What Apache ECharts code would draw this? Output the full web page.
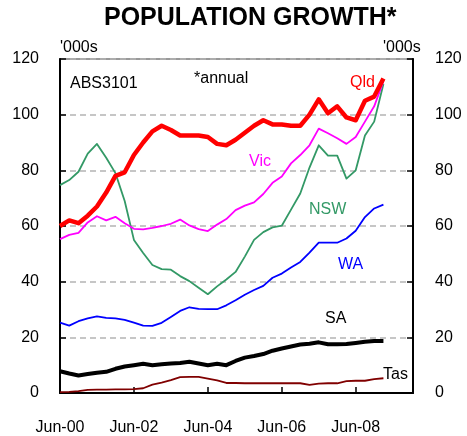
<!DOCTYPE html>
<html>
<head>
<meta charset="utf-8">
<script src="https://cdn.jsdelivr.net/npm/echarts@6/dist/echarts.min.js"></script>
<style>html,body{margin:0;padding:0;background:#fff}#c{width:467px;height:436px}</style>
</head>
<body>
<div id="c"></div>
<script>
const quarters = ['Jun-00','Sep-00','Dec-00','Mar-01','Jun-01','Sep-01','Dec-01','Mar-02','Jun-02','Sep-02','Dec-02','Mar-03','Jun-03','Sep-03','Dec-03','Mar-04','Jun-04','Sep-04','Dec-04','Mar-05','Jun-05','Sep-05','Dec-05','Mar-06','Jun-06','Sep-06','Dec-06','Mar-07','Jun-07','Sep-07','Dec-07','Mar-08','Jun-08','Sep-08','Dec-08','Mar-09'];
const tickLabels = ['Jun-00','Jun-02','Jun-04','Jun-06','Jun-08'];
const yTicks = [0,20,40,60,80,100,120];
const qld = [60,62,61,63.7,67,72,78,79.3,85.5,90,94,96,94.5,92.5,92.5,92.5,92,89.5,89,91,93.5,96,98,96.5,96.5,96,96,100,105.5,100.5,103,99,98,105,106.5,113];
const vic = [55.3,56.8,57.5,61.3,63.5,62,63.3,61,59,58.8,59.3,60,60.8,62.3,60.2,58.9,58.2,60.5,62.5,65.7,67.3,68.5,71.5,75.5,77.8,82.5,85.5,89,95,93.3,91.5,89.5,92,97.5,103,112];
const nsw = [74.7,76.5,79.5,86,89.5,84.5,79,69,55,50.3,46,44.5,44.3,42,40.2,37.8,35.5,38.3,40.8,43.5,49,55,57.8,59.5,60.1,65.9,71.7,81,89,85.3,85.3,77,80,92.5,97.5,111];
const wa = [25.3,24.2,25.8,26.8,27.5,27,26.8,26.3,25.3,24.2,24.1,25.2,27.3,29.5,30.8,30.2,30.1,30.1,31.5,33.3,35.3,37,38.5,41.4,42.9,45.1,47.1,50.4,54,54,54,55.5,58.3,63.2,66.3,67.7];
const sa = [7.8,7,6.3,6.8,7.3,7.6,8.7,9.5,10,10.5,10,10.3,10.6,10.8,11.2,10.6,10,10.5,10,11.5,12.7,13.3,14,15.2,16,16.7,17.4,17.7,18.2,17.5,17.5,17.6,18,18.4,18.7,18.7];
const tas = [0.3,0.4,0.7,1.1,1.2,1.2,1.3,1.3,1.4,1.7,3,3.7,4.6,5.7,5.8,5.8,5.2,4.5,3.6,3.6,3.5,3.5,3.5,3.5,3.5,3.5,3.5,2.9,3.4,3.5,3.5,4.3,4.4,4.4,5,5.3];

const FONT = 'Liberation Sans, Arial, sans-serif';
const pairs = arr => arr.map((v, i) => [i, v]);
const mk = (name, arr, color, width) => ({
  name, type: 'line', data: pairs(arr), showSymbol: false, symbol: 'none',
  lineStyle: { color, width, join: 'round' }, animation: false, z: 3
});
const txt = (text, x, y, color) => ({
  type: 'text', x, y, z: 10,
  style: { text, x: 0, y: 0, fill: color || '#000', font: '16px ' + FONT, align: 'left', verticalAlign: 'middle' }
});

const chart = echarts.init(document.getElementById('c'), null, { renderer: 'canvas' });
chart.setOption({
  animation: false,
  backgroundColor: '#fff',
  grid: { left: 60, right: 54, top: 59, bottom: 43, show: true, borderColor: '#999', borderWidth: 2, backgroundColor: 'transparent' },
  xAxis: {
    type: 'value', min: 0, max: 38.2, interval: 8,
    axisLine: { show: true, lineStyle: { color: '#000', width: 2 } },
    axisTick: { show: true, inside: true, length: 6, lineStyle: { color: '#000', width: 1.5 } },
    splitLine: { show: false },
    axisLabel: {
      margin: 27, fontFamily: FONT, fontSize: 16, color: '#000', showMaxLabel: false,
      formatter: v => (v % 8 === 0 ? (tickLabels[v / 8] || '') : '')
    }
  },
  yAxis: [{
    type: 'value', min: 0, max: 120, interval: 20, position: 'left',
    axisLine: { show: true, lineStyle: { color: '#000', width: 2 } },
    axisTick: { show: true, inside: true, length: 6, lineStyle: { color: '#000', width: 1.5 } },
    splitLine: { show: true, lineStyle: { color: '#b4b4b4', width: 1.5, type: [6, 4] } },
    axisLabel: { margin: 21, fontFamily: FONT, fontSize: 16, color: '#000', formatter: v => (yTicks.indexOf(v) >= 0 ? String(v) : '') }
  }, {
    type: 'value', min: 0, max: 120, interval: 20, position: 'right',
    axisLine: { show: true, lineStyle: { color: '#000', width: 2 } },
    axisTick: { show: true, inside: true, length: 6, lineStyle: { color: '#000', width: 1.5 } },
    splitLine: { show: false },
    axisLabel: { margin: 22, fontFamily: FONT, fontSize: 16, color: '#000', formatter: v => (yTicks.indexOf(v) >= 0 ? String(v) : '') }
  }],
  series: [
    mk('Tas', tas, '#800000', 1.8),
    mk('SA', sa, '#000000', 4),
    mk('WA', wa, '#0000ff', 1.8),
    mk('NSW', nsw, '#339966', 1.8),
    mk('Vic', vic, '#ff00ff', 1.8),
    mk('Qld', qld, '#ff0000', 4.5)
  ],
  graphic: [
    {
      type: 'text', x: 104, y: 18.5, z: 10,
      style: { text: 'POPULATION GROWTH*', x: 0, y: 0, fill: '#000', font: 'bold 25px ' + FONT, align: 'left', verticalAlign: 'middle' }
    },
    txt("'000s", 60, 48),
    txt("'000s", 383, 48),
    txt('ABS3101', 70, 83.5),
    txt('*annual', 194, 79),
    txt('Qld', 350, 83, '#ff0000'),
    txt('Vic', 249, 161.5, '#ff00ff'),
    txt('NSW', 309, 210, '#339966'),
    txt('WA', 338, 264.5, '#0000ff'),
    txt('SA', 325, 319),
    txt('Tas', 383, 375)
  ]
});
</script>
</body>
</html>
